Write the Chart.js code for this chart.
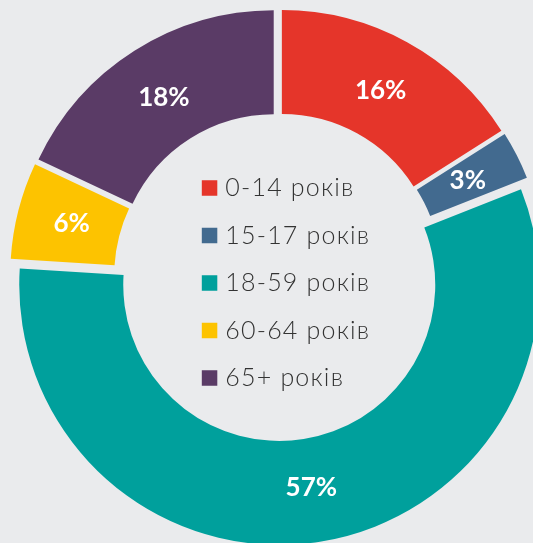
<!DOCTYPE html>
<html>
<head>
<meta charset="utf-8">
<script src="https://cdn.jsdelivr.net/npm/chart.js@4/dist/chart.umd.min.js"></script>
<style>
  html, body { margin: 0; padding: 0; background: #eaebed; }
  #wrap { width: 533px; height: 543px; }
</style>
</head>
<body>
<div id="wrap"><canvas id="c" width="533" height="543"></canvas></div>
<script>
const categories = ['0-14 років', '15-17 років', '18-59 років', '60-64 років', '65+ років'];
const shares = [16, 3, 57, 6, 18];
const colors = ['#e5352a', '#426a8f', '#00a09c', '#fdc300', '#5a3b66'];

const SHIFT = 8; // every slice is pulled out along its middle angle by this many px

// Explode the slices: move each arc element's centre along its mid-angle.
const explode = {
  id: 'explode',
  afterDatasetsUpdate(chart) {
    chart.getDatasetMeta(0).data.forEach(arc => {
      const half = (arc.startAngle + arc.endAngle) / 2;
      arc.x += Math.cos(half) * SHIFT;
      arc.y += Math.sin(half) * SHIFT;
    });
  }
};

const pctLabels = {
  id: 'pctLabels',
  afterDatasetsDraw(chart) {
    const ctx = chart.ctx;
    const meta = chart.getDatasetMeta(0);
    ctx.save();
    ctx.fillStyle = '#ffffff';
    ctx.font = 'bold 26px Lato, "Open Sans", sans-serif';
    ctx.textAlign = 'center';
    ctx.textBaseline = 'middle';
    meta.data.forEach((arc, i) => {
      const half = (arc.startAngle + arc.endAngle) / 2;
      const rr = (arc.innerRadius + arc.outerRadius) / 2 - 3;
      ctx.fillText(shares[i] + '%', arc.x + Math.cos(half) * rr, arc.y + Math.sin(half) * rr);
    });
    ctx.restore();
  }
};

const centerLegend = {
  id: 'centerLegend',
  afterDraw(chart) {
    const ctx = chart.ctx;
    const a = chart.chartArea;
    const cx = (a.left + a.right) / 2, cy = (a.top + a.bottom) / 2;
    const box = 15.5, gap = 8, rowH = 47.5;
    ctx.save();
    ctx.font = '300 25px Lato, "Open Sans", sans-serif';
    ctx.letterSpacing = '1.2px';
    ctx.textBaseline = 'alphabetic';
    ctx.textAlign = 'left';
    let maxW = 0;
    categories.forEach(t => { maxW = Math.max(maxW, ctx.measureText(t).width); });
    const blockW = box + gap + maxW;
    const left = cx + 8 - blockW / 2;
    const n = categories.length;
    const firstCenter = cy + 6 - (n - 1) / 2 * rowH;
    categories.forEach((t, i) => {
      const yc = firstCenter + i * rowH;
      ctx.fillStyle = colors[i];
      ctx.fillRect(left, yc - box / 2, box, box);
      ctx.fillStyle = '#333333';
      ctx.fillText(t, left + box + gap, yc + box / 2 + 0.5);
    });
    ctx.restore();
  }
};

new Chart(document.getElementById('c'), {
  type: 'doughnut',
  data: {
    labels: categories,
    datasets: [{
      data: shares,
      backgroundColor: colors,
      borderWidth: 0
    }]
  },
  options: {
    responsive: false,
    animation: false,
    radius: 260,
    cutout: '60%',
    layout: { padding: { left: 23, top: 11, right: 0, bottom: 0 } },
    plugins: { legend: { display: false }, tooltip: { enabled: false } }
  },
  plugins: [explode, pctLabels, centerLegend]
});
</script>
</body>
</html>
